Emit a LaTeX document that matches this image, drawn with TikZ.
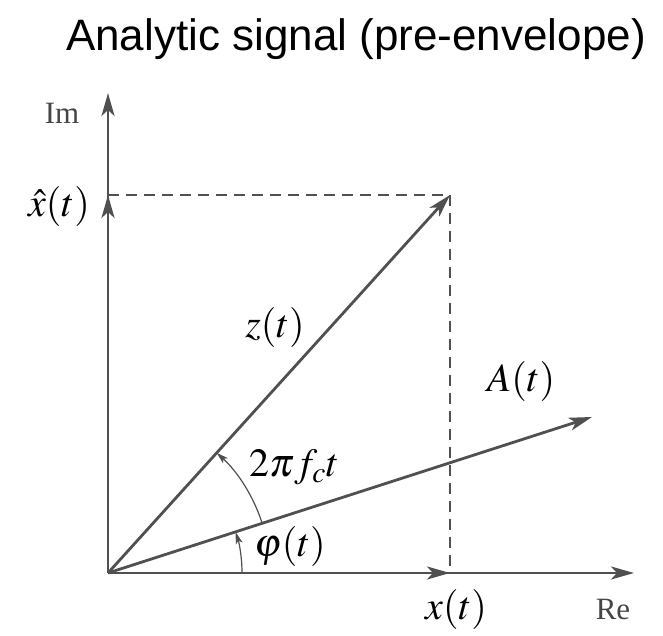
\documentclass[tikz,border=0pt]{standalone}
\usepackage{mathptmx}
\usepackage{fontspec}
\newfontfamily\titlefont{Liberation Sans}
\newfontfamily\serifplain{Liberation Serif}
\usetikzlibrary{arrows.meta}
\definecolor{ln}{RGB}{80,80,80}
\definecolor{lbl}{RGB}{70,70,70}
\begin{document}
\begin{tikzpicture}[x=1pt,y=1pt,
  vec/.style={draw=ln,line width=2.8pt,-{Stealth[length=23pt,width=13pt,inset=6pt]}},
  guide/.style={draw=ln,line width=1.6pt,dash pattern=on 11pt off 7pt},
  arcarrow/.style={draw=ln,line width=1.2pt,-{Stealth[length=12pt,width=7pt,inset=3pt]}},
  mlabel/.style={font=\fontsize{40}{46}\selectfont,inner sep=0pt},
  axlabel/.style={font=\serifplain\fontsize{31}{34}\selectfont,text=lbl,inner sep=0pt}]
\useasboundingbox (0,0) rectangle (663,636);
\coordinate (O) at (108,63);
\coordinate (Imtop) at (108,543);
\coordinate (Xhat) at (108,441);
\coordinate (Z) at (450,441);
\coordinate (Retop) at (634,63);
\coordinate (X) at (450,63);
\coordinate (A) at (592,219);
% dashed guides
\draw[guide] (Xhat) -- (Z);
\draw[guide] (Z) -- (X);
% axes
\draw[vec] (O) -- (Imtop);
\draw[vec] (O) -- (Retop);
% component vectors
\draw[vec] (O) -- (Xhat);
\draw[vec] (O) -- (X);
% phasors
\draw[vec] (O) -- (Z);
\draw[vec] (O) -- (A);
% angle arcs
\draw[arcarrow] ([shift={(17.8:162)}]O) arc[start angle=17.8,end angle=47.9,radius=162];
\draw[arcarrow] ([shift={(0:134)}]O) arc[start angle=0,end angle=17.8,radius=134];
% labels
\node[font=\titlefont\fontsize{44}{50}\selectfont,inner sep=0pt] (title) at (356,597) {Analytic signal (pre-envelope)};
\node[axlabel] (im) at (62,523) {Im};
\node[axlabel] (re) at (613,26) {Re};
\node[mlabel,anchor=east] (xh) at (90,429) {$\hat{x}(t)$};
\node[mlabel] (zl) at (275,308) {$z(t)$};
\node[mlabel] (al) at (521,254) {$A(t)$};
\node[mlabel] (fl) at (294,169) {$2\pi f_c t$};
\node[mlabel] (pl) at (290,89) {$\varphi(t)$};
\node[mlabel] (xl) at (456,26) {$x(t)$};
\end{tikzpicture}
\end{document}
